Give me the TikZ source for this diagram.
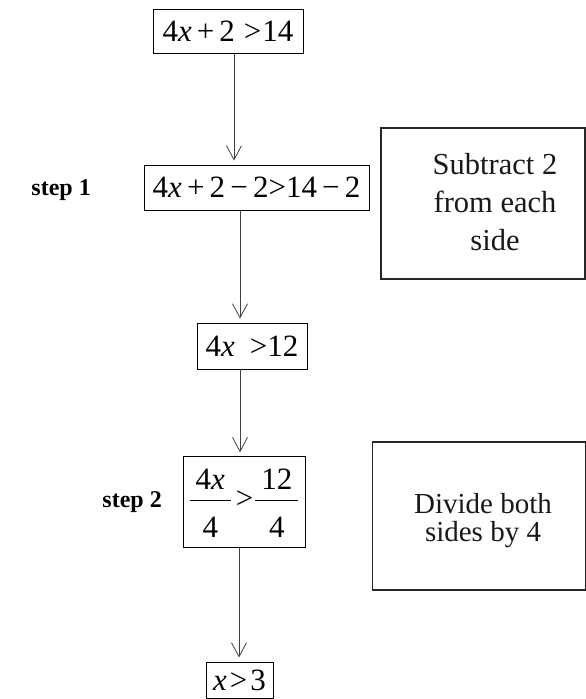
\documentclass[tikz,border=0pt]{standalone}
\usepackage{fontspec}
\setmainfont{Liberation Serif}
\usetikzlibrary{arrows.meta}
\newcommand\myfr[2]{\begin{tabular}[c]{@{\hspace{6pt}}c@{\hspace{6pt}}}\rule{0pt}{33pt}#1\\[1pt]\hline\rule{0pt}{37pt}#2\end{tabular}}
\newcommand\opsp{\hspace{5pt}}
\tikzset{
  eq/.style={draw, line width=0.9pt, inner sep=0pt, font=\fontsize{31}{32}\selectfont},
  notebox/.style={draw, line width=1.3pt, draw=black!85, inner sep=0pt},
  notetext/.style={inner sep=0pt, align=center, text=black!90},
  lab/.style={font=\fontsize{24}{26}\selectfont\bfseries, anchor=east, inner sep=0pt},
  arr/.style={line width=0.8pt, draw=black!75, -{Straight Barb[length=14pt,width=15pt,line width=0.8pt]}, shorten >=4pt}
}
\begin{document}
\begin{tikzpicture}[x=1pt,y=-1pt]
\useasboundingbox (0,0) rectangle (586,699);
\node[eq, minimum width=150pt, minimum height=44pt] (b1) at (228,31) {4\textit{x}\opsp+\opsp2\hspace{9pt}>\hspace{1pt}14};
\node[eq, minimum width=225pt, minimum height=45pt] (b2) at (256.5,187.5) {4\textit{x}\,+\,2\,−\,2>14\,−\,2};
\node[eq, minimum width=110pt, minimum height=46pt] (b3) at (252,346) {4\textit{x}\hspace{15pt}>12};
\node[eq, minimum width=122pt, minimum height=84pt] (b4) at (244,502) {\myfr{4\textit{x}}{4}\hspace{5pt}>\hspace{2pt}\myfr{12}{4}};
\node[eq, minimum width=67pt, minimum height=36pt] (b5) at (239.5,680) {\textit{x}\hspace{3pt}>\hspace{3pt}3};
\node[lab] (s1) at (91,190) {step 1};
\node[lab] (s2) at (162,502) {step 2};
\node[notebox, minimum width=204pt, minimum height=151pt] (n1) at (483,203.5) {};
\node[notetext, font=\fontsize{30.5}{38}\selectfont] (t1) at (495,202) {Subtract 2\\from each\\side};
\node[notebox, minimum width=213pt, minimum height=148pt] (n2) at (479,516) {};
\node[notetext, font=\fontsize{29}{28}\selectfont] (t2) at (483,521) {Divide both\\sides by 4};
\coordinate (c1) at (234,0);
\coordinate (c2) at (240,0);
\coordinate (c3) at (240,0);
\coordinate (c4) at (239,0);
\draw[arr] (b1.south -| c1) -- (b2.north -| c1);
\draw[arr] (b2.south -| c2) -- (b3.north -| c2);
\draw[arr] (b3.south -| c3) -- (b4.north -| c3);
\draw[arr] (b4.south -| c4) -- (b5.north -| c4);
\end{tikzpicture}
\end{document}
